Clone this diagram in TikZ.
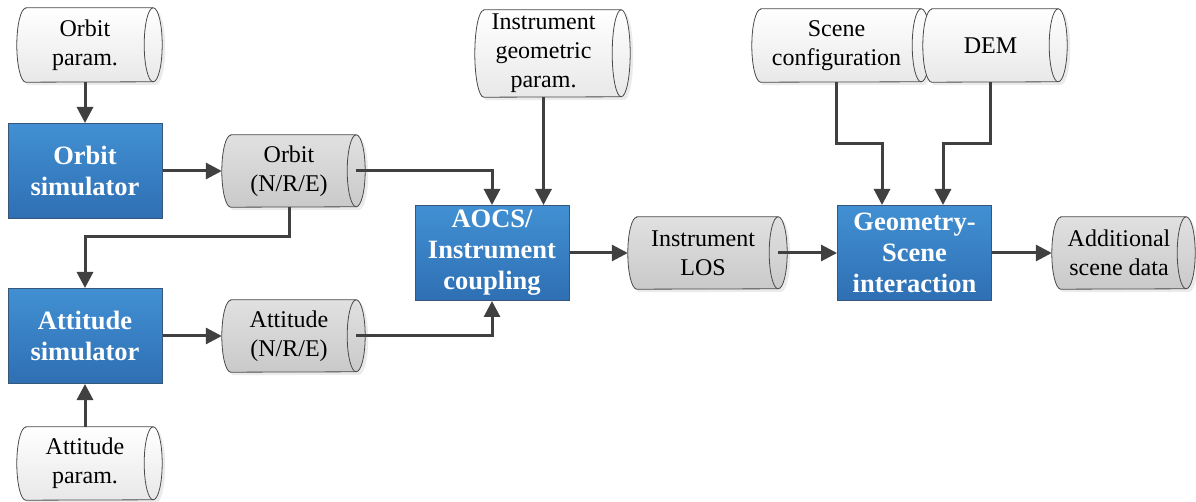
\documentclass[tikz,border=0pt]{standalone}
\usepackage{fontspec}
\setmainfont{Liberation Serif}
\usetikzlibrary{arrows.meta,calc,backgrounds}

\definecolor{boxtop}{HTML}{4190D3}
\definecolor{boxbot}{HTML}{2F6FB3}
\definecolor{boxline}{HTML}{37577A}
\definecolor{wire}{HTML}{404040}
\definecolor{tankline}{HTML}{4A4A4A}

\tikzset{
  proc/.style={rectangle, draw=boxline, line width=1pt, top color=boxtop, bottom color=boxbot,
    minimum width=154pt, minimum height=95pt, inner sep=0pt, align=center, text=white,
    font=\fontsize{26.5}{31}\selectfont\bfseries},
  tank/.style={rectangle, inner sep=0pt, align=center, font=\fontsize{24}{29}\selectfont},
  flow/.style={draw=wire, line width=3pt, -{Triangle[length=16pt,width=16pt]}},
  lighttank/.style={top color=white, bottom color=black!9},
  darktank/.style={top color=black!12, bottom color=black!21},
}

% outline of a horizontal storage cylinder around a node:
% #1 node, #2 offset of the end cap centre from node.east, #3 half height, #4/#5 shift
\newcommand\tankpath[5]{%
  ([xshift=9pt+#4,yshift=#5]#1.north west) -- ([xshift=#2+#4,yshift=#5]#1.north east)
  arc[start angle=90,end angle=-90,x radius=9pt,y radius=#3]
  -- ([xshift=9pt+#4,yshift=#5]#1.south west)
  arc[start angle=270,end angle=90,x radius=9pt,y radius=#3] -- cycle}
\newcommand\tank[4][0pt]{%
  \fill[black!8] \tankpath{#2}{#1}{#3}{3pt}{-3pt};
  \path[draw=tankline, line width=0.8pt, #4] \tankpath{#2}{#1}{#3}{0pt}{0pt};
  \draw[tankline, line width=0.8pt] ([xshift=#1]#2.north east)
    arc[start angle=90,end angle=270,x radius=9pt,y radius=#3];
}

\begin{document}
\begin{tikzpicture}[x=1pt,y=-1pt]
\path[use as bounding box] (0,0) rectangle (1196,502);

% data stores
\node[tank, minimum width=136pt, minimum height=74pt] (op) at (85,45) {Orbit\\param.};
\node[tank, minimum width=134pt, minimum height=72pt] (on) at (289,171) {Orbit\\(N/R/E)};
\node[tank, minimum width=134pt, minimum height=72pt] (an) at (289,336) {Attitude\\(N/R/E)};
\node[tank, minimum width=136pt, minimum height=73pt] (ap) at (85,463.5) {Attitude\\param.};
\node[tank, minimum width=137pt, minimum height=87pt] (ig) at (543.5,53.5) {Instrument\\geometric\\param.};
\node[tank, minimum width=150pt, minimum height=72pt] (los) at (703,253) {Instrument\\LOS};
\node[tank, minimum width=134pt, minimum height=72pt] (ad) at (1119,253) {Additional\\scene data};
\node[tank, minimum width=169pt, minimum height=73pt] (sc) at (836.5,45.5) {Scene\\configuration};
\node[tank, minimum width=135pt, minimum height=73pt] (dem) at (990.5,45.5) {DEM};

% processing blocks
\node[proc] (os) at (85,171) {Orbit\\simulator};
\node[proc] (as) at (85,336) {Attitude\\simulator};
\node[proc] (ao) at (492,253) {AOCS/\\Instrument\\coupling};
\node[proc] (gs) at (914.5,253) {Geometry-\\Scene\\interaction};

\begin{scope}[on background layer]
  \fill[white] (0,0) rectangle (1196,502);
  \tank{op}{37pt}{lighttank}
  \tank{ap}{36.5pt}{lighttank}
  \tank[9pt]{ig}{43.5pt}{lighttank}
  \tank{sc}{36.5pt}{lighttank}
  \tank{dem}{36.5pt}{lighttank}
  \tank{on}{36pt}{darktank}
  \tank{an}{36pt}{darktank}
  \tank{los}{36pt}{darktank}
  \tank{ad}{36pt}{darktank}
\end{scope}

% connectors
\coordinate (split) at (289,237);
\coordinate (sj) at (836.5,144);
\coordinate (dj) at (990.5,144);

\draw[flow] (op.south) -- (os.north);
\draw[flow] (os.east) -- (on.west);
\draw[flow] (on.east) -| (ao.north);
\draw[flow] (on.south) -- (split) -| (as.north);
\draw[flow] (as.east) -- (an.west);
\draw[flow] (an.east) -| (ao.south);
\draw[flow] (ap.north) -- (as.south);
\draw[flow] (ig.south) -- (ig.south |- ao.north);
\draw[flow] (ao.east) -- (los.west);
\draw[flow] (los.east) -- (gs.west);
\draw[flow] (gs.east) -- (ad.west);
\draw[flow] (sc.south) -- (sj) -| ([xshift=-32.5pt]gs.north);
\draw[flow] (dem.south) -- (dj) -| ([xshift=28.5pt]gs.north);
\end{tikzpicture}
\end{document}
